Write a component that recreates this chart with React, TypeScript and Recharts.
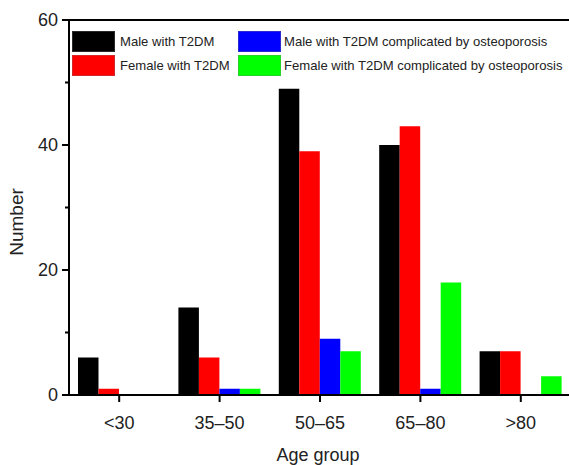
import React from "react";
import { Bar, BarChart, ReferenceLine, XAxis, YAxis } from "recharts";

const categories = ["<30", "35–50", "50–65", "65–80", ">80"];
const maleT2DM = [6, 14, 49, 40, 7];
const femaleT2DM = [1, 6, 39, 43, 7];
const maleOsteo = [0, 1, 9, 1, 0];
const femaleOsteo = [0, 1, 7, 18, 3];
const yTicks = [0, 10, 20, 30, 40, 50, 60];
const bandTicks = [0, 1, 2, 3, 4, 5];

const series = [
    { key: "maleT2DM", name: "Male with T2DM", color: "#000000" },
    { key: "maleOsteo", name: "Male with T2DM complicated by osteoporosis", color: "#0000ff" },
    { key: "femaleT2DM", name: "Female with T2DM", color: "#ff0000" },
    { key: "femaleOsteo", name: "Female with T2DM complicated by osteoporosis", color: "#00ff00" },
];
const barOrder = ["maleT2DM", "femaleT2DM", "maleOsteo", "femaleOsteo"];

const data = categories.map((name, i) => ({
    name,
    maleT2DM: maleT2DM[i],
    femaleT2DM: femaleT2DM[i],
    maleOsteo: maleOsteo[i],
    femaleOsteo: femaleOsteo[i],
}));

const font = '"Liberation Sans", Arial, Helvetica, sans-serif';

const YTick = (props: any) => {
    const { x, y, payload } = props;
    const major = payload.value % 20 === 0;
    return (
        <g>
            <line x1={x - (major ? 7 : 4)} x2={x} y1={y} y2={y} stroke="#000" strokeWidth={2} />
            {major && (
                <text x={x - 11} y={y} dy="0.36em" textAnchor="end" fontSize={18} fill="#222" fontFamily={font}>
                    {payload.value}
                </text>
            )}
        </g>
    );
};

const XTick = (props: any) => {
    const { x, y, payload } = props;
    return (
        <g>
            <line x1={x} x2={x} y1={y} y2={y + 7} stroke="#000" strokeWidth={2} />
            <text x={x} y={y + 34} textAnchor="middle" fontSize={18} fill="#222" fontFamily={font}>
                {payload.value}
            </text>
        </g>
    );
};

const MinorTick = (props: any) => {
    const { x, y } = props;
    return <line x1={x} x2={x} y1={y} y2={y + 4} stroke="#000" strokeWidth={2} />;
};

const App = () => {
    return (
        <div style={{ position: "absolute", left: 0, top: 0, width: 569, height: 465, overflow: "hidden", background: "#fff", fontFamily: font }}>
            <BarChart
                width={571}
                height={465}
                data={data}
                margin={{ top: 20, right: 0, left: 9, bottom: 0 }}
                barGap={0}
                barSize={20.5}
            >
                <XAxis
                    xAxisId="minor"
                    type="number"
                    domain={[0, 5]}
                    ticks={bandTicks}
                    allowDataOverflow
                    height={0}
                    axisLine={false}
                    tickLine={false}
                    tickSize={0}
                    tick={<MinorTick />}
                    interval={0}
                />
                <XAxis
                    dataKey="name"
                    height={70}
                    axisLine={{ stroke: "#000", strokeWidth: 2 }}
                    tickLine={false}
                    tickSize={0}
                    tickMargin={0}
                    tick={<XTick />}
                    interval={0}
                />
                <YAxis
                    width={60}
                    domain={[0, 60]}
                    ticks={yTicks}
                    interval={0}
                    axisLine={{ stroke: "#000", strokeWidth: 2 }}
                    tickLine={false}
                    tickSize={0}
                    tickMargin={0}
                    tick={<YTick />}
                />
                <ReferenceLine y={60} stroke="#000" strokeWidth={2} />
                {barOrder.map((k) => {
                    const s = series.find((d) => d.key === k)!;
                    return <Bar key={k} dataKey={k} name={s.name} fill={s.color} isAnimationActive={false} />;
                })}
            </BarChart>
            <div
                style={{
                    position: "absolute",
                    left: 72,
                    top: 31,
                    display: "grid",
                    gridTemplateColumns: "166px auto",
                    rowGap: 3,
                    fontSize: 13.1,
                    color: "#222",
                }}
            >
                {series.map((s) => (
                    <div key={s.key} style={{ display: "flex", alignItems: "center", height: 21 }}>
                        <div style={{ width: 43, height: 21, background: s.color, boxSizing: "border-box", border: "1px solid rgba(120,120,120,0.35)" }} />
                        <span style={{ marginLeft: s.key.endsWith("Osteo") ? 3 : 5, whiteSpace: "nowrap" }}>{s.name}</span>
                    </div>
                ))}
            </div>
            <div
                style={{
                    position: "absolute",
                    left: 17,
                    top: 222,
                    transform: "translate(-50%, -50%) rotate(-90deg)",
                    fontSize: 19,
                    color: "#222",
                    whiteSpace: "nowrap",
                }}
            >
                Number
            </div>
            <div
                style={{
                    position: "absolute",
                    left: 318,
                    top: 455,
                    transform: "translate(-50%, -50%)",
                    fontSize: 18,
                    color: "#222",
                    whiteSpace: "nowrap",
                }}
            >
                Age group
            </div>
        </div>
    );
};

export default App;
